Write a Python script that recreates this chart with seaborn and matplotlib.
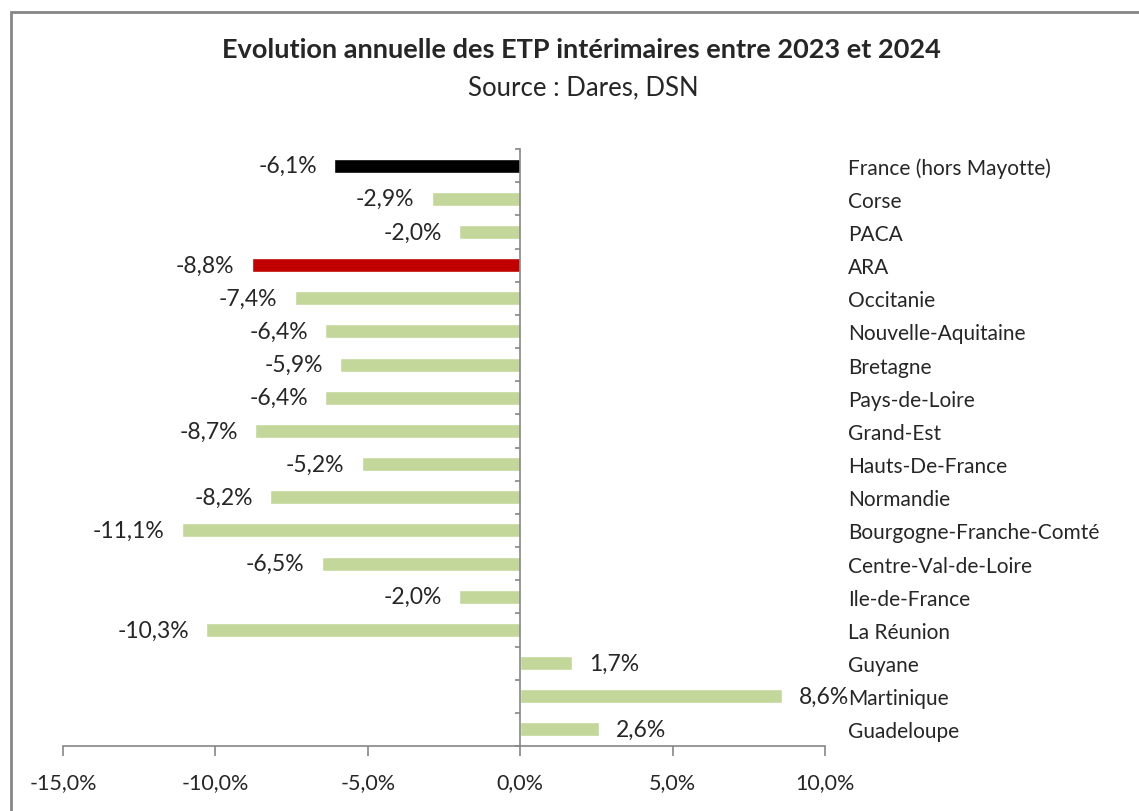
import matplotlib.pyplot as plt
import matplotlib.ticker as mticker
from matplotlib.patches import Rectangle
import seaborn as sns

# Data, top to bottom
regions = [
    "France (hors Mayotte)", "Corse", "PACA", "ARA", "Occitanie",
    "Nouvelle-Aquitaine", "Bretagne", "Pays-de-Loire", "Grand-Est",
    "Hauts-De-France", "Normandie", "Bourgogne-Franche-Comté",
    "Centre-Val-de-Loire", "Ile-de-France", "La Réunion", "Guyane",
    "Martinique", "Guadeloupe",
]
evolution = [-6.1, -2.9, -2.0, -8.8, -7.4, -6.4, -5.9, -6.4, -8.7,
             -5.2, -8.2, -11.1, -6.5, -2.0, -10.3, 1.7, 8.6, 2.6]

GREEN = "#C4D79B"
highlight = {"France (hors Mayotte)": "#000000", "ARA": "#C00000"}
colors = [highlight.get(r, GREEN) for r in regions]
AXIS_GREY = "#868686"

sns.set_style("white")
plt.rcParams["font.family"] = ["Lato", "DejaVu Sans"]

fig = plt.figure(figsize=(11.39, 8.12), dpi=100)
W, H = 1139, 812
ax = fig.add_axes([63 / W, 1 - 747 / H, (825 - 63) / W, (747 - 150) / H])

sns.barplot(x=evolution, y=regions, hue=regions, palette=colors,
            legend=False, width=0.42, orient="h", ax=ax, saturation=1)

ax.set_xlim(-15, 10)
ax.set_ylim(len(regions) - 0.5, -0.5)
ax.set_xlabel("")
ax.set_ylabel("")

# x axis
ax.xaxis.set_major_locator(mticker.MultipleLocator(5))
ax.xaxis.set_major_formatter(
    mticker.FuncFormatter(lambda v, p: f"{v:.1f}%".replace(".", ",")))
ax.tick_params(axis="x", which="major", bottom=True, direction="out",
               length=7, width=1.2, color=AXIS_GREY, pad=12, labelsize=15.5)

# y axis: line at zero, ticks between categories, labels on the right
for s in ["top", "right"]:
    ax.spines[s].set_visible(False)
ax.spines["left"].set_position(("data", 0))
for s in ["left", "bottom"]:
    ax.spines[s].set_color(AXIS_GREY)
    ax.spines[s].set_linewidth(1.2)
ax.tick_params(axis="y", which="major", left=False, right=False,
               labelleft=False, labelright=True, pad=13, labelsize=15)
# small tick marks between categories on the zero line
bounds = [i + 0.5 for i in range(-1, len(regions))]
ax.hlines(bounds, -0.17, 0, colors=AXIS_GREY, linewidth=1.2, clip_on=False)

# value labels
for i, v in enumerate(evolution):
    txt = f"{v:.1f}%".replace(".", ",")
    ax.annotate(txt, (v, i), xytext=(-12.5 if v < 0 else 12, 0),
                textcoords="offset points",
                ha="right" if v < 0 else "left", va="center", fontsize=16.5)

fig.text(581 / W, 1 - 50 / H,
         "Evolution annuelle des ETP intérimaires entre 2023 et 2024",
         ha="center", va="center", fontsize=19.5, fontweight="bold")
fig.text(583 / W, 1 - 88 / H, "Source : Dares, DSN", ha="center",
         va="center", fontsize=18.5)

# chart frame (cropped on the right and bottom)
fig.patches.append(Rectangle((11 / W, -0.1), 1.2, 1 - 13 / H + 0.1,
                             transform=fig.transFigure, fill=False,
                             edgecolor=AXIS_GREY, linewidth=2))

fig.savefig("out.png", dpi=100)
